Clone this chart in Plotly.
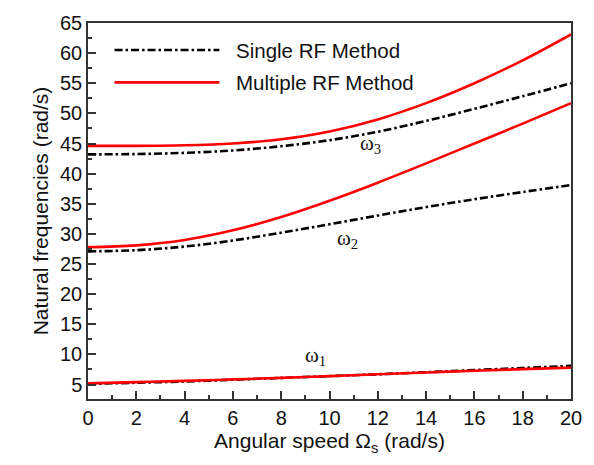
import plotly.graph_objects as go

omega_s = [0, 2, 4, 6, 8, 10, 12, 14, 16, 18, 20]

single_w1 = [5.1, 5.3, 5.5, 5.8, 6.1, 6.4, 6.7, 7.05, 7.4, 7.75, 8.1]
single_w2 = [27.1, 27.3, 27.9, 28.9, 30.2, 31.6, 33.05, 34.45, 35.75, 36.95, 38.1]
single_w3 = [43.2, 43.25, 43.45, 43.85, 44.55, 45.55, 46.95, 48.75, 50.75, 52.85, 55.0]

multi_w1 = [5.2, 5.4, 5.6, 5.85, 6.1, 6.4, 6.7, 7.0, 7.3, 7.55, 7.8]
multi_w2 = [27.8, 28.1, 29.0, 30.6, 32.8, 35.5, 38.5, 41.7, 45.0, 48.3, 51.7]
multi_w3 = [44.6, 44.6, 44.7, 45.0, 45.7, 47.0, 49.0, 51.7, 55.0, 58.8, 63.1]

series_names = ["Single RF Method", "Multiple RF Method"]
mode_labels = ["ω<sub>1</sub>", "ω<sub>2</sub>", "ω<sub>3</sub>"]
label_pos = [(9.4, 9.8), (10.75, 29.2), (11.7, 45.0)]

x_ticks = list(range(0, 21, 2))
y_ticks = list(range(5, 66, 5))

black_style = dict(color="black", width=2.6, dash="8px,3px,2.5px,3px")
red_style = dict(color="#ff0000", width=2.6)

fig = go.Figure()
for ys in [single_w1, single_w2, single_w3]:
    fig.add_trace(go.Scatter(x=omega_s, y=ys, mode="lines",
                             line=dict(shape="spline", smoothing=1.0, **black_style),
                             showlegend=False))
for ys in [multi_w1, multi_w2, multi_w3]:
    fig.add_trace(go.Scatter(x=omega_s, y=ys, mode="lines",
                             line=dict(shape="spline", smoothing=1.0, **red_style),
                             showlegend=False))

font_main = "Liberation Sans, Arial, sans-serif"

# manual legend
legend_rows = [(0.928, black_style, series_names[0]), (0.842, red_style, series_names[1])]
for yy, st, name in legend_rows:
    fig.add_shape(type="line", xref="paper", yref="paper", x0=0.055, x1=0.272, y0=yy, y1=yy,
                  line=st)
    fig.add_annotation(xref="paper", yref="paper", x=0.303, y=yy, text=name, showarrow=False,
                       xanchor="left", yanchor="middle",
                       font=dict(family=font_main, size=20.5, color="#111"))

for (lx, ly), lab in zip(label_pos, mode_labels):
    fig.add_annotation(x=lx, y=ly, text=lab, showarrow=False, xanchor="center", yanchor="middle",
                       font=dict(family="Liberation Serif, Times New Roman, serif", size=21, color="#111"))

axis_common = dict(
    showline=True, linecolor="#333", linewidth=1.5, mirror=True,
    ticks="inside", ticklen=8, tickwidth=1.5, tickcolor="#333",
    showgrid=False, zeroline=False,
    tickfont=dict(family=font_main, size=20, color="#111"),
)

fig.update_xaxes(range=[0, 20], tickvals=x_ticks,
                 minor=dict(ticks="inside", ticklen=4, tickwidth=1.5, tickcolor="#333", dtick=1),
                 title=dict(text="Angular speed Ω<sub>s</sub> (rad/s)", standoff=6,
                            font=dict(family=font_main, size=21, color="#111")),
                 **axis_common)
fig.update_yaxes(range=[2.6, 65], tickvals=y_ticks,
                 minor=dict(ticks="inside", ticklen=4, tickwidth=1.5, tickcolor="#333",
                            tickvals=[v + 2.5 for v in y_ticks[:-1]]),
                 title=dict(text="Natural frequencies (rad/s)", standoff=6,
                            font=dict(family=font_main, size=21, color="#111")),
                 **axis_common)

fig.update_layout(
    width=594, height=465,
    margin=dict(l=88, r=13, t=18, b=66),
    paper_bgcolor="white", plot_bgcolor="white",
    showlegend=False,
)

fig.write_html("out.html")
